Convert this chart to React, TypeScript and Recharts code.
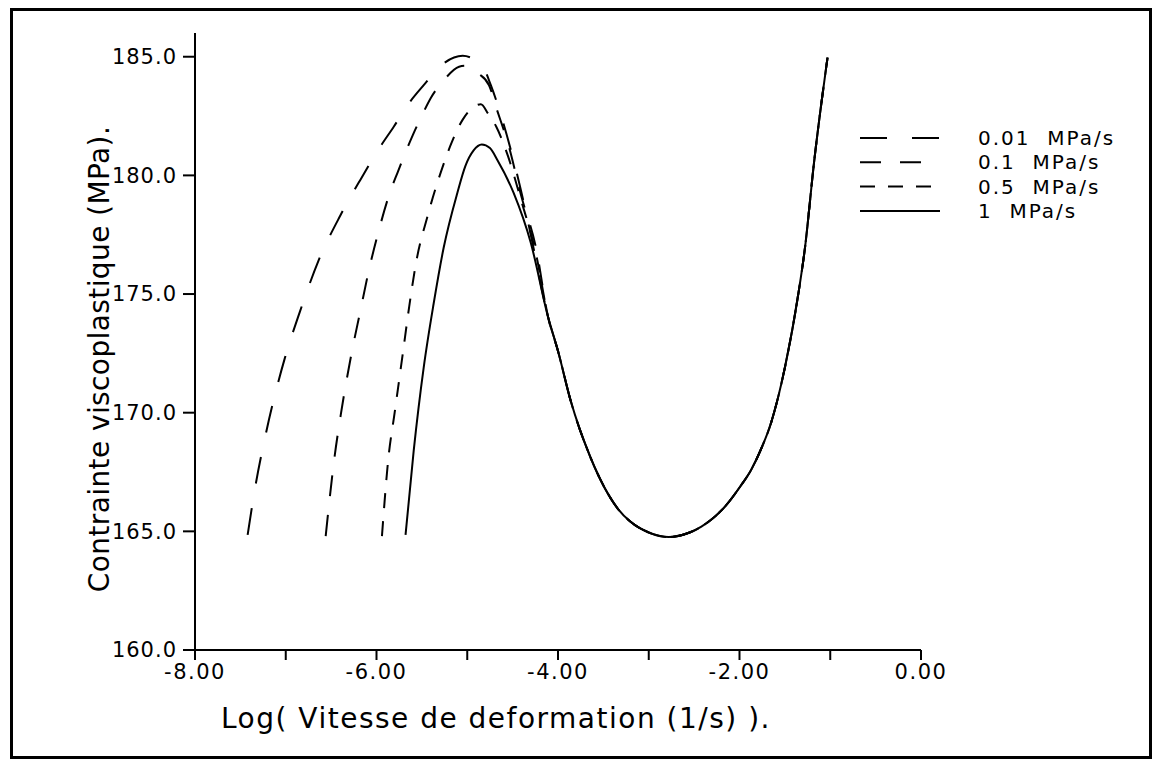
import { LineChart, Line, XAxis, YAxis, Legend } from 'recharts';

// Strain rate (log) / viscoplastic stress readings, one pair of arrays per loading rate.
// Left branch + peak of each curve; all four share the same descending tail.
const rate001X = [-7.42, -7.33, -7.22, -7.01, -6.84, -6.64, -6.4, -6.18, -5.96, -5.81, -5.65, -5.48, -5.28, -5.05, -4.96, -4.83, -4.74, -4.63, -4.52, -4.41, -4.3];
const rate001Y = [164.85, 167.0, 169.1, 172.3, 174.3, 176.4, 178.3, 179.8, 181.2, 182.05, 183.0, 183.8, 184.66, 185.04, 184.96, 184.6, 183.8, 182.55, 181.08, 179.4, 177.5];

const rate01X = [-6.56, -6.46, -6.39, -6.27, -6.18, -6.09, -5.98, -5.85, -5.77, -5.6, -5.49, -5.4, -5.26, -5.09, -5.02, -4.88, -4.76, -4.68, -4.54, -4.41, -4.24];
const rate01Y = [164.8, 168.2, 170.0, 172.6, 174.25, 175.9, 177.6, 179.3, 180.1, 181.7, 182.6, 183.27, 184.0, 184.58, 184.62, 184.3, 183.8, 182.85, 181.2, 179.2, 176.9];

const rate05X = [-5.94, -5.87, -5.8, -5.71, -5.64, -5.56, -5.44, -5.4, -5.29, -5.17, -5.05, -4.91, -4.85, -4.77, -4.68, -4.55, -4.41, -4.24];
const rate05Y = [164.8, 168.05, 170.0, 172.5, 174.46, 176.4, 178.25, 178.8, 180.15, 181.4, 182.35, 182.93, 183.0, 182.6, 182.05, 180.8, 179.0, 176.65];

const rate1X = [-5.68, -5.59, -5.48, -5.37, -5.26, -5.11, -5.02, -4.93, -4.84, -4.75, -4.67, -4.49, -4.3];
const rate1Y = [164.85, 168.4, 171.9, 174.6, 176.95, 179.25, 180.4, 181.05, 181.3, 181.15, 180.66, 179.27, 177.16];

const tailX = [-4.11, -4.0, -3.86, -3.64, -3.34, -3.2, -3.0, -2.78, -2.55, -2.42, -2.17, -1.99, -1.87, -1.77, -1.65, -1.5, -1.35, -1.28, -1.18, -1.03];
const tailY = [174.04, 172.6, 170.5, 168.1, 165.95, 165.4, 164.95, 164.76, 164.95, 165.2, 166.0, 166.9, 167.6, 168.4, 169.6, 171.9, 175.05, 176.9, 180.5, 184.96];

const seriesNames = ['0.01  MPa/s', '0.1  MPa/s', '0.5  MPa/s', '1  MPa/s'];
const seriesDash = ['27 25', '21 19', '15 13', undefined];

const xTicks = [-8, -7, -6, -5, -4, -3, -2, -1, 0];
const yTicks = [160, 165, 170, 175, 180, 185];

const xTitle = 'Log( Vitesse de deformation (1/s) ).';
const yTitle = 'Contrainte viscoplastique (MPa).';

const FONT = '"DejaVu Sans", sans-serif';

function toPoints(xs: number[], ys: number[]) {
  const head = xs.map((x, i) => ({ x, y: ys[i] }));
  const tail = tailX.map((x, i) => ({ x, y: tailY[i] }));
  return [...head, ...tail];
}

const seriesData = [
  toPoints(rate001X, rate001Y),
  toPoints(rate01X, rate01Y),
  toPoints(rate05X, rate05Y),
  toPoints(rate1X, rate1Y),
];

function LegendBox() {
  return (
    <svg width={280} height={100}>
      {seriesNames.map((name, i) => (
        <g key={name}>
          <line
            x1={10}
            x2={90}
            y1={13 + i * 24.3}
            y2={13 + i * 24.3}
            stroke="#000"
            strokeWidth={2}
            strokeDasharray={seriesDash[i]}
          />
          <text
            x={128}
            y={13 + i * 24.3}
            dominantBaseline="central"
            fontFamily={FONT}
            fontSize={20}
            letterSpacing={2}
            fill="#000"
            style={{ whiteSpace: 'pre' }}
          >
            {name}
          </text>
        </g>
      ))}
    </svg>
  );
}

export default function App() {
  return (
    <div style={{ position: 'absolute', left: 0, top: 0, width: 1153, height: 765, background: '#fff' }}>
      <div
        style={{
          position: 'absolute',
          left: 10,
          top: 8,
          width: 1136,
          height: 745,
          border: '3px solid #000',
        }}
      />
      <LineChart width={1153} height={765} margin={{ top: 33, right: 232, left: 0, bottom: 0 }}>
        <XAxis
          dataKey="x"
          type="number"
          domain={[-8, 0]}
          ticks={xTicks}
          allowDataOverflow
          stroke="#000"
          strokeWidth={2}
          tickSize={10}
          tickMargin={4}
          height={115}
          tickFormatter={(v: number) => (v % 2 === 0 ? v.toFixed(2) : '')}
          tick={{ fill: '#000', fontSize: 21, fontFamily: FONT, letterSpacing: 1.5 }}
          label={{
            content: (props: any) => {
              const vb = props.viewBox;
              return (
                <text
                  x={496}
                  y={vb.y + 68}
                  textAnchor="middle"
                  dominantBaseline="central"
                  fontFamily={FONT}
                  fontSize={28}
                  letterSpacing={1.5}
                  fill="#000"
                  style={{ whiteSpace: 'pre' }}
                >
                  {xTitle}
                </text>
              );
            },
          }}
        />
        <YAxis
          type="number"
          domain={[160, 186]}
          ticks={yTicks}
          allowDataOverflow
          stroke="#000"
          strokeWidth={2}
          tickSize={12}
          tickMargin={6}
          width={195}
          tickFormatter={(v: number) => v.toFixed(1)}
          tick={{ fill: '#000', fontSize: 21, fontFamily: FONT, letterSpacing: 1 }}
          label={{
            content: () => (
              <text
                x={99}
                y={359}
                transform="rotate(-90 99 359)"
                textAnchor="middle"
                dominantBaseline="central"
                fontFamily={FONT}
                fontSize={28}
                letterSpacing={0.4}
                fill="#000"
                style={{ whiteSpace: 'pre' }}
              >
                {yTitle}
              </text>
            ),
          }}
        />
        <Legend
          layout="vertical"
          align="center"
          verticalAlign="middle"
          wrapperStyle={{ left: 850, top: 125, width: 280, height: 100 }}
          content={() => <LegendBox />}
        />
        {seriesData.map((data, i) => (
          <Line
            key={seriesNames[i]}
            data={data}
            dataKey="y"
            name={seriesNames[i]}
            type="monotone"
            stroke="#000"
            strokeWidth={2}
            strokeDasharray={seriesDash[i]}
            dot={false}
            activeDot={false}
            isAnimationActive={false}
          />
        ))}
      </LineChart>
    </div>
  );
}
